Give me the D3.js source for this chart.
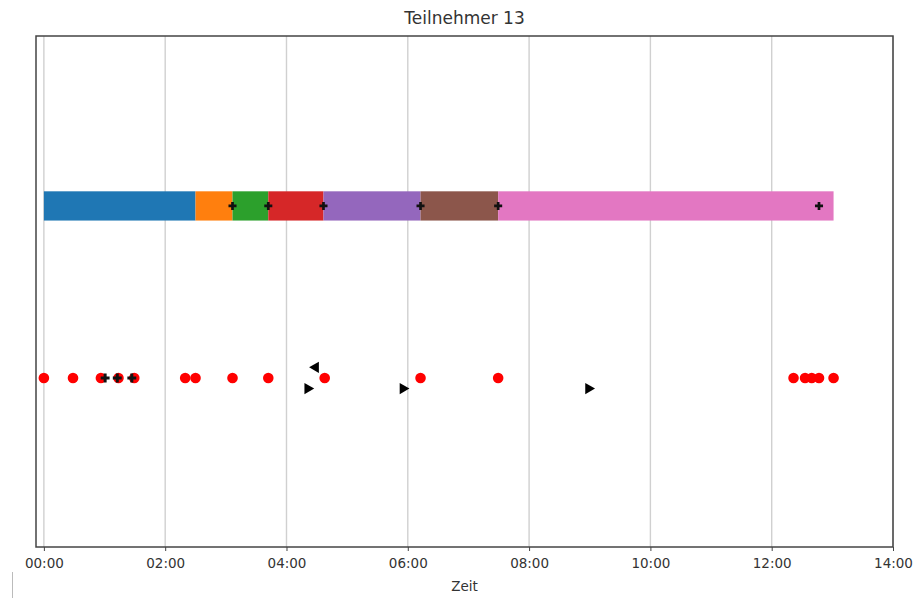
<!DOCTYPE html>
<html>
<head>
<meta charset="utf-8">
<script src="https://cdn.jsdelivr.net/npm/d3@7"></script>
<style>
  html, body { margin: 0; padding: 0; background: #fff; }
  svg { display: block; font-family: "DejaVu Sans", sans-serif; }
</style>
</head>
<body>
<svg id="chart" width="923" height="598"></svg>
<script>
// Phase boundaries (minutes) and their colours
const phaseBounds = [0, 2.50, 3.11, 3.70, 4.61, 6.21, 7.49, 13.02];
const phaseColors = ["#1f77b4", "#ff7f0e", "#2ca02c", "#d62728", "#9467bd", "#8c564b", "#e377c2"];
// Event markers on the phase bar
const barEvents = [3.11, 3.70, 4.61, 6.21, 7.49, 12.78];
// Red event dots on the lower row
const redDots = [0, 0.48, 0.94, 1.23, 1.49, 2.33, 2.50, 3.11, 3.70, 4.63, 6.21, 7.49, 12.36, 12.55, 12.66, 12.78, 13.02];
// Small black markers on the lower row
const blackDots = [1.01, 1.21, 1.45];
// Direction markers
const leftTriangles = [4.48];
const rightTriangles = [4.35, 5.92, 8.98];
// Axis ticks
const tickValues = [0, 2, 4, 6, 8, 10, 12, 14];
const tickLabels = ["00:00", "02:00", "04:00", "06:00", "08:00", "10:00", "12:00", "14:00"];

const svg = d3.select("#chart");
const plotL = 36, plotR = 893, plotT = 36, plotB = 547;

const x = d3.scaleLinear().domain([-0.13, 14.0]).range([plotL, plotR]);
const y = d3.scaleLinear().domain([-0.983, 1.988]).range([plotB, plotT]);

const barRow = 1, dotRow = 0, barHalf = 0.085, triOffset = 0.062;

// Grid
svg.append("g").selectAll("line").data(tickValues).join("line")
  .attr("x1", d => x(d)).attr("x2", d => x(d))
  .attr("y1", plotT).attr("y2", plotB)
  .attr("stroke", "#d0d0d0").attr("stroke-width", 1.4);

// Phase bar
const segs = phaseColors.map((c, i) => ({ a: phaseBounds[i], b: phaseBounds[i + 1], c }));
svg.append("g").selectAll("rect").data(segs).join("rect")
  .attr("x", d => x(d.a)).attr("width", d => x(d.b) - x(d.a))
  .attr("y", y(barRow + barHalf)).attr("height", y(barRow - barHalf) - y(barRow + barHalf))
  .attr("fill", d => d.c);

const cross = d3.symbol().type(d3.symbolCross).size(36);
svg.append("g").selectAll("path").data(barEvents).join("path")
  .attr("d", cross)
  .attr("transform", d => `translate(${x(d)},${y(barRow)})`)
  .attr("fill", "#111");

// Red dots
svg.append("g").selectAll("circle").data(redDots).join("circle")
  .attr("cx", d => x(d)).attr("cy", y(dotRow)).attr("r", 5.3)
  .attr("fill", "#ff0000");

// Black dots
svg.append("g").selectAll("path").data(blackDots).join("path")
  .attr("d", d3.symbol().type(d3.symbolCross).size(44))
  .attr("transform", d => `translate(${x(d)},${y(dotRow)})`)
  .attr("fill", "#111");

// Triangles
const tri = d3.symbol().type(d3.symbolTriangle).size(55);
svg.append("g").selectAll("path").data(leftTriangles).join("path")
  .attr("d", tri)
  .attr("transform", d => `translate(${x(d)},${y(dotRow + triOffset)}) rotate(-90)`)
  .attr("fill", "#000");
svg.append("g").selectAll("path").data(rightTriangles).join("path")
  .attr("d", tri)
  .attr("transform", d => `translate(${x(d)},${y(dotRow - triOffset)}) rotate(90)`)
  .attr("fill", "#000");

// Frame
svg.append("rect")
  .attr("x", plotL).attr("y", plotT).attr("width", plotR - plotL).attr("height", plotB - plotT)
  .attr("fill", "none").attr("stroke", "#444").attr("stroke-width", 1.5);

// X axis
const xAxis = d3.axisBottom(x).tickValues(tickValues)
  .tickFormat((d, i) => tickLabels[i]).tickSize(4).tickPadding(7);
const gx = svg.append("g").attr("transform", `translate(0,${plotB})`).call(xAxis);
gx.select(".domain").remove();
gx.selectAll(".tick line").attr("stroke", "#444");
gx.selectAll(".tick text").attr("font-size", 13.5).attr("fill", "#333")
  .attr("font-family", "DejaVu Sans, sans-serif");

svg.append("text").attr("x", (plotL + plotR) / 2).attr("y", 591)
  .attr("text-anchor", "middle").attr("font-size", 13.5).attr("fill", "#333")
  .text("Zeit");

svg.append("text").attr("x", (plotL + plotR) / 2).attr("y", 24)
  .attr("text-anchor", "middle").attr("font-size", 17).attr("fill", "#333")
  .text("Teilnehmer 13");

// Thin edge line at the lower left
svg.append("line").attr("x1", 12.5).attr("x2", 12.5).attr("y1", 572).attr("y2", 598)
  .attr("stroke", "#bbb").attr("stroke-width", 1);
</script>
</body>
</html>
